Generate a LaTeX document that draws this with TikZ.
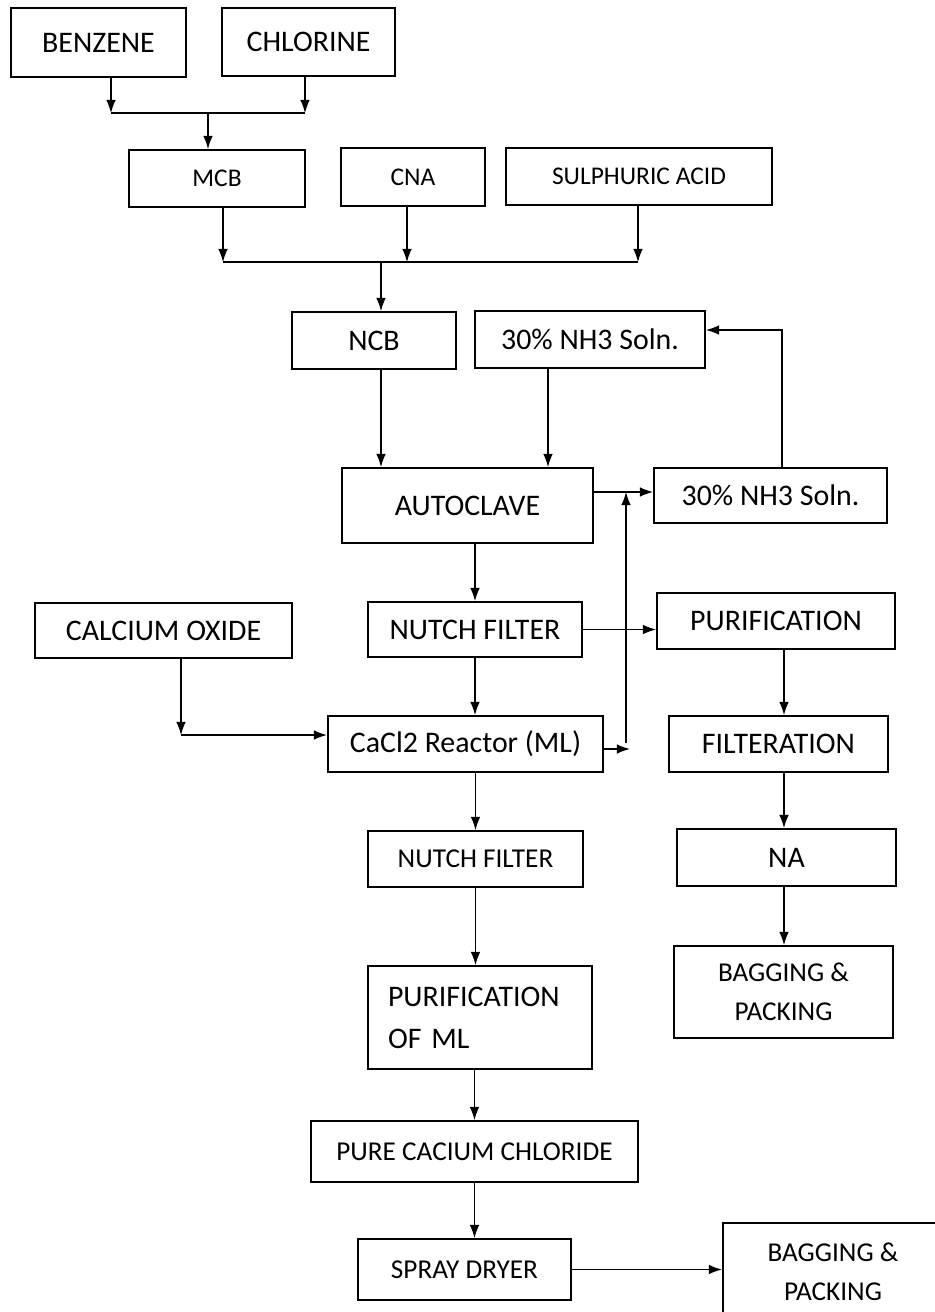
\documentclass[tikz,border=0pt]{standalone}
\usepackage{fontspec}
\setmainfont{Carlito}
\usepackage{tikz}
\usetikzlibrary{arrows.meta}

\begin{document}
\begin{tikzpicture}[x=0.02cm,y=-0.02cm,
	box/.style={draw,line width=1.1pt,inner sep=2pt,font=\fontsize{17}{20}\selectfont},
	wh/.style 2 args={minimum width=#1*0.02cm,minimum height=#2*0.02cm},
	small/.style={font=\fontsize{14.5}{17}\selectfont},
	mid/.style={font=\fontsize{15.5}{22}\selectfont},
	arr/.style={-{Latex[length=7.5pt,width=5.5pt]},line width=0.7pt}]
	    \useasboundingbox (0,0) rectangle (935,1312);
	    % raw materials
	    \node[box,wh={175}{69}] (benz) at (98.5,42.5) {BENZENE};
	    \node[box,wh={173}{68}] (chlor) at (308.5,42) {CHLORINE};
	    \node[box,small,wh={176}{57}] (mcb) at (217,178.5) {MCB};
	    \node[box,small,wh={144}{58}] (cna) at (413,177) {CNA};
	    \node[box,small,wh={266}{57}] (sa) at (639,176.5) {SULPHURIC ACID};
	    \node[box,wh={164}{57}] (ncb) at (374,340.5) {NCB};
	    \node[box,wh={230}{57}] (nh3a) at (590,339.5) {30\% NH3 Soln.};
	    \node[box,wh={251}{75}] (auto) at (467.5,505.5) {AUTOCLAVE};
	    \node[box,wh={233}{55}] (nh3b) at (770.5,495.5) {30\% NH3 Soln.};
	    % filtering
	    \node[box,wh={257}{55}] (cao) at (163.5,630.5) {CALCIUM OXIDE};
	    \node[box,wh={214}{55}] (nf1) at (475,629.5) {NUTCH FILTER};
	    \node[box,wh={238}{56}] (pur) at (776,621) {PURIFICATION};
	    \node[box,wh={275}{56}] (cacl) at (465.5,744) {CaCl2 Reactor (ML)};
	    \node[box,wh={219}{56}] (filt) at (778.5,744) {FILTERATION};
	    \node[box,mid,wh={215}{56}] (nf2) at (475.5,859) {NUTCH FILTER};
	    \node[box,wh={219}{57}] (na) at (786.5,857.5) {NA};
	    \node[box,mid,wh={219}{92},align=center] (bag1) at (783.5,992) {BAGGING \&\\PACKING};
	    \node[box,wh={224}{103},inner xsep=0.4cm,text width=3.68cm,align=left,font=\fontsize{17}{24}\selectfont] (pml) at (480,1017.5) {PURIFICATION\\OF ML};
	    \node[box,mid,wh={327}{61}] (pure) at (474.5,1151.5) {PURE CACIUM CHLORIDE};
	    \node[box,mid,wh={213}{61}] (spray) at (464.5,1269.5) {SPRAY DRYER};
	    \node[box,mid,wh={220}{98},align=center] (bag2) at (833,1272) {BAGGING \&\\PACKING};
	    % junction points
	    \coordinate (bL) at (111,113);
	    \coordinate (bR) at (305,113);
	    \coordinate (bM) at (208,113);
	    \coordinate (cL) at (223,262);
	    \coordinate (cC) at (407,262);
	    \coordinate (cR) at (638,262);
	    \coordinate (cM) at (381,262);
	    \coordinate (xa) at (548,420);
	    \coordinate (r1) at (626,492);
	    \coordinate (lp) at (782,330);
	    \coordinate (ck) at (181,735);
	    \coordinate (cr) at (630,749);
	    \coordinate (vb) at (626,743);
	    \coordinate (rx) at (784,800);
	    % connectors
	    \draw[arr] (benz.south -| bL) -- (bL);
	    \draw[arr] (chlor.south -| bR) -- (bR);
	    \draw[line width=0.9pt] (bL) -- (bR);
	    \draw[arr] (bM) -- (mcb.north -| bM);
	    \draw[arr] (mcb.south -| cL) -- (cL);
	    \draw[arr] (cna.south -| cC) -- (cC);
	    \draw[arr] (sa.south -| cR) -- (cR);
	    \draw[line width=0.9pt] (cL) -- (cR);
	    \draw[arr] (cM) -- (ncb.north -| cM);
	    \draw[arr] (ncb.south -| cM) -- (auto.north -| cM);
	    \draw[arr] (nh3a.south -| xa) -- (auto.north -| xa);
	    \draw[arr,line width=0.9pt] (auto.east |- r1) -- (nh3b.west |- r1);
	    \draw[arr] (nh3b.north -| lp) -- (lp) -- (nh3a.east |- lp);
	    \draw[arr] (auto.south -| nf1.north) -- (nf1.north);
	    \draw[arr] (nf1.east) -- (nf1.east -| pur.west);
	    \draw[arr] (nf1.south) -- (nf1.south |- cacl.north);
	    \draw[arr] (cao.south -| ck) -- (ck);
	    \draw[arr,line width=0.9pt] (ck) -- (cacl.west |- ck);
	    \draw[arr,line width=0.9pt] (cacl.east |- cr) -- (cr);
	    \draw[arr] (vb) -- (r1);
	    \draw[arr] (pur.south -| rx) -- (filt.north -| rx);
	    \draw[arr] (filt.south -| rx) -- (na.north -| rx);
	    \draw[arr] (na.south -| rx) -- (bag1.north -| rx);
	    \draw[arr] (nf2.north |- cacl.south) -- (nf2.north);
	    \draw[arr] (nf2.south) -- (nf2.south |- pml.north);
	    \draw[arr] (pml.south -| pure.north) -- (pure.north);
	    \draw[arr] (pure.south) -- (pure.south |- spray.north);
	    \draw[arr,line width=0.9pt] (spray.east) -- (spray.east -| bag2.west);
	\end{tikzpicture}
\end{document}
